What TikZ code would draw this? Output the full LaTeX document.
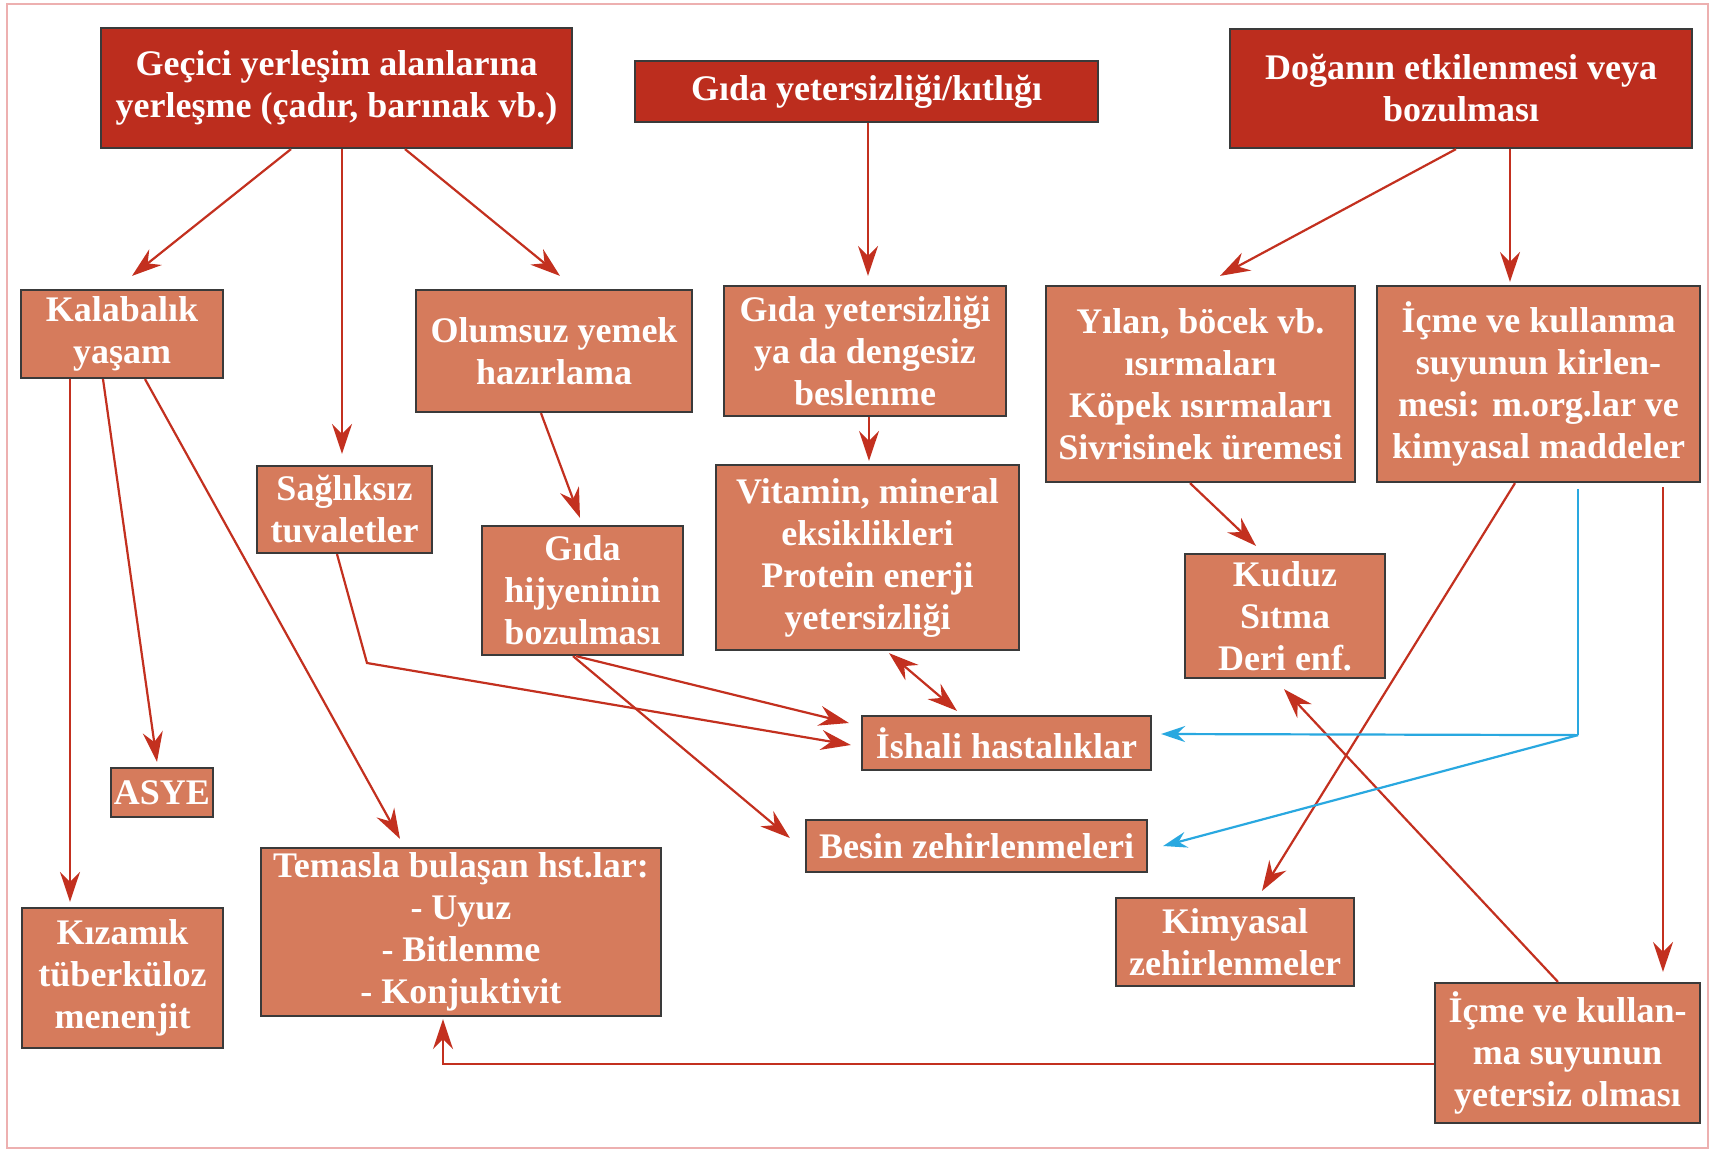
\documentclass[tikz,border=0pt]{standalone}
\usepackage{fontspec}
\setmainfont{Liberation Serif}
\usetikzlibrary{arrows.meta,calc}
\definecolor{darkbox}{HTML}{BC2D1E}
\definecolor{lightbox}{HTML}{D67B5C}
\definecolor{boxline}{HTML}{3A3A3A}
\definecolor{arr}{HTML}{C3301F}
\definecolor{bluearr}{HTML}{29A8E0}
\definecolor{frame}{HTML}{EDB0B0}
\begin{document}
\begin{tikzpicture}[x=1pt,y=-1pt,
  box/.style={draw=boxline,line width=2.2pt,inner sep=0pt,align=center,text=white,
    font=\fontsize{36}{42}\selectfont\bfseries},
  topbox/.style={box,fill=darkbox},
  subbox/.style={box,fill=lightbox},
  conn/.style={draw=arr,line width=2.2pt,-{Stealth[length=30pt,width=20pt,inset=10pt]}},
  conn2/.style={draw=arr,line width=2.2pt,{Stealth[length=30pt,width=20pt,inset=10pt]}-{Stealth[length=30pt,width=20pt,inset=10pt]}},
  bconn/.style={draw=bluearr,line width=2.2pt,-{Stealth[length=24pt,width=16pt,inset=8pt]}},
  bline/.style={draw=bluearr,line width=2.2pt}
]
\fill[white] (0,0) rectangle (1714,1151);
\useasboundingbox (0,0) rectangle (1714,1151);
\draw[frame,line width=2pt] (7,4) rectangle (1708,1148);

% top boxes
\node[topbox,minimum width=471pt,minimum height=120pt] (geci) at (336.5,88) {Geçici yerleşim alanlarına\\yerleşme (çadır, barınak vb.)};
\node[topbox,minimum width=463pt,minimum height=61pt] (gidak) at (866.5,91.5) {Gıda yetersizliği/kıtlığı};
\node[topbox,minimum width=462pt,minimum height=119pt] (doga) at (1461,88.5) {Doğanın etkilenmesi veya\\bozulması};

% second row
\node[subbox,minimum width=202pt,minimum height=88pt] (kala) at (122,334) {Kalabalık\\yaşam};
\node[subbox,minimum width=276pt,minimum height=122pt] (olum) at (554,351) {Olumsuz yemek\\hazırlama};
\node[subbox,minimum width=282pt,minimum height=130pt] (gyet) at (865,351) {Gıda yetersizliği\\ya da dengesiz\\beslenme};
\node[subbox,minimum width=309pt,minimum height=196pt] (yilan) at (1200.5,384) {Yılan, böcek vb.\\ısırmaları\\Köpek ısırmaları\\Sivrisinek üremesi};
\node[subbox,minimum width=323pt,minimum height=196pt] (icme) at (1538.5,384) {İçme ve kullanma\\suyunun kirlen-\\mesi: m.org.lar ve\\kimyasal maddeler};

% middle
\node[subbox,minimum width=175pt,minimum height=87pt] (sagl) at (344.5,509.5) {Sağlıksız\\tuvaletler};
\node[subbox,minimum width=201pt,minimum height=129pt] (hij) at (582.5,590.5) {Gıda\\hijyeninin\\bozulması};
\node[subbox,minimum width=303pt,minimum height=185pt] (vit) at (867.5,557.5) {Vitamin, mineral\\eksiklikleri\\Protein enerji\\yetersizliği};
\node[subbox,minimum width=200pt,minimum height=124pt] (kuduz) at (1285,616) {Kuduz\\Sıtma\\Deri enf.};
\node[subbox,minimum width=289pt,minimum height=54pt] (ishali) at (1006.5,743) {İshali hastalıklar};
\node[subbox,minimum width=102pt,minimum height=49pt] (asye) at (162,792.5) {ASYE};
\node[subbox,minimum width=341pt,minimum height=52pt] (besin) at (976.5,846) {Besin zehirlenmeleri};

% bottom
\node[subbox,minimum width=400pt,minimum height=168pt] (temas) at (461,932) {Temasla bulaşan hst.lar:\\- Uyuz\\- Bitlenme\\- Konjuktivit};
\node[subbox,minimum width=238pt,minimum height=88pt] (kimya) at (1235,942) {Kimyasal\\zehirlenmeler};
\node[subbox,minimum width=201pt,minimum height=140pt] (kiz) at (122.5,978) {Kızamık\\tüberküloz\\menenjit};
\node[subbox,minimum width=265pt,minimum height=140pt] (icyet) at (1567.5,1053) {İçme ve kullan-\\ma suyunun\\yetersiz olması};

% connectors
\draw[conn] ([xshift=-45.5pt]geci.south) -- ([shift={(10pt,13pt)}]kala.north);
\draw[conn] ([xshift=5.5pt]geci.south) -- ([shift={(-2.5pt,11pt)}]sagl.north);
\draw[conn] ([xshift=68.5pt]geci.south) -- ([shift={(6pt,13pt)}]olum.north);
\draw[conn] ([xshift=1.5pt]gidak.south) -- ([shift={(3pt,9pt)}]gyet.north);
\draw[conn] ([xshift=-5pt]doga.south) -- ([shift={(19.5pt,9pt)}]yilan.north);
\draw[conn] ([xshift=49pt]doga.south) -- ([shift={(-28.5pt,3pt)}]icme.north);

\draw[conn] ([xshift=-52pt]kala.south) -- ([shift={(-52.5pt,5pt)}]kiz.north);
\draw[conn] ([xshift=-19pt]kala.south) -- ([shift={(-5pt,5pt)}]asye.north);
\draw[conn] ([xshift=23pt]kala.south) -- ([shift={(-61pt,8pt)}]temas.north);
\draw[conn] ([xshift=-13pt]olum.south) -- ([shift={(-2.5pt,7pt)}]hij.north);
\draw[conn] ([xshift=4pt]gyet.south) -- ([shift={(1.5pt,3pt)}]vit.north);

\coordinate (bend) at (367,663);
\draw[conn] ([xshift=-7.5pt]sagl.south) -- (bend) -- ([shift={(-10pt,-2pt)}]ishali.west);
\draw[conn] ([xshift=-6.5pt]hij.south) -- ([shift={(-12pt,20pt)}]ishali.west);
\draw[conn] ([xshift=-9.5pt]hij.south) -- ([shift={(-15pt,8pt)}]besin.west);
\draw[conn2] ([shift={(21.5pt,-2pt)}]vit.south) -- ([shift={(-49.5pt,4pt)}]ishali.north);
\draw[conn] ([xshift=-10.5pt]yilan.south) -- ([shift={(-29pt,7pt)}]kuduz.north);
\draw[conn] ([xshift=-23.5pt]icme.south) -- ([shift={(27pt,6pt)}]kimya.north);
\draw[conn] ([shift={(124.5pt,-4pt)}]icme.south) -- ([shift={(95.5pt,10pt)}]icyet.north);
\draw[conn] ([xshift=-9.5pt]icyet.north) -- ([shift={(-1pt,-10pt)}]kuduz.south);
\draw[conn] ([yshift=-11pt]icyet.west) -| ([shift={(-18pt,-2pt)}]temas.south);

% blue connectors
\coordinate (bj) at ([shift={(39.5pt,-252pt)}]icme.south);
\draw[bline] ([shift={(39.5pt,-6pt)}]icme.south) -- (bj);
\draw[bconn] (bj) -- ([shift={(9pt,9pt)}]ishali.east);
\draw[bconn] (bj) -- ([xshift=15pt]besin.east);
\end{tikzpicture}
\end{document}
